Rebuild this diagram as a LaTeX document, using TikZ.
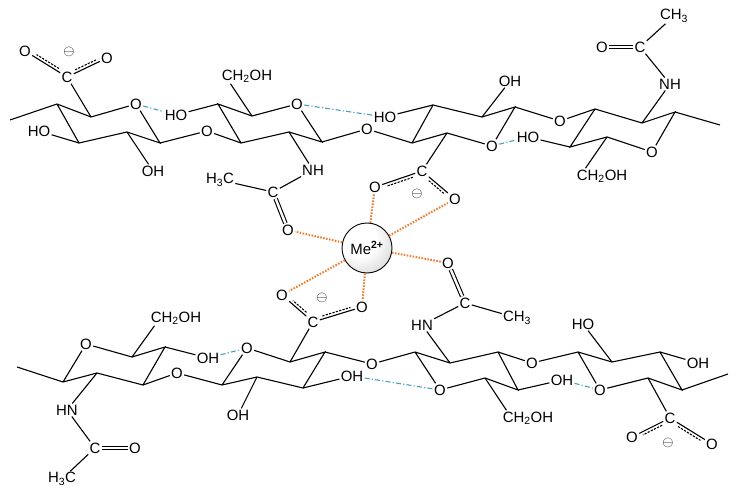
\documentclass[tikz,border=0pt]{standalone}
\usepackage{fontspec}
\setmainfont{Liberation Sans}
\usepackage{xcolor}
\usepackage{tikz}
\usetikzlibrary{calc, positioning}
\definecolor{hcyan}{RGB}{70,160,190}
\definecolor{metorange}{RGB}{240,120,40}
\pgfdeclareradialshading{metalball}{\pgfpoint{-12bp}{12bp}}{color(0bp)=(white); color(18bp)=(white); color(45bp)=(gray!45); color(70bp)=(gray!65)}
\tikzstyle{atom} = [inner sep=1.2pt, font=\fontsize{15}{15}\selectfont]
\tikzstyle{charge} = [inner sep=0pt, font=\fontsize{15}{15}\selectfont]
\tikzstyle{bond} = [line width=1.1bp, black]
\tikzstyle{dbond} = [bond, double, double distance=2.4bp]
\tikzstyle{hbond} = [line width=1.1bp, hcyan, dash pattern=on 5bp off 2.2bp on 1.2bp off 2.2bp]
\tikzstyle{coord} = [line width=2bp, metorange, dash pattern=on 1.5bp off 1.5bp]
\tikzstyle{metal} = [circle, draw=black, line width=0.9bp, minimum size=50bp, inner sep=0pt, shading=metalball, font=\fontsize{15}{15}\selectfont]
\newcommand{\delocbond}[3]{%
	\draw [bond] (#1) -- (#2) coordinate[pos=0.1] (dl_s) coordinate[pos=0.9] (dl_e);
	\coordinate (dl_p) at ($(dl_s)!3bp!#3:(dl_e)$);
	\draw [bond, dash pattern=on 2.2bp off 1.3bp] (dl_p) -- ($(dl_e)+(dl_p)-(dl_s)$);
}

\begin{document}
\begin{tikzpicture}[x=1bp, y=-1bp]
			
			\useasboundingbox (0,0) rectangle (744,499);
			
			\coordinate (end_tl) at (10,120);
			\coordinate (r1_a) at (57,104);
			\coordinate (r1_b) at (91,117);
			\node (r1_o) [atom] at (136,104) {O};
			\coordinate (r1_c) at (160,143);
			\coordinate (r1_d) at (127,132);
			\coordinate (r1_e) at (79,143);
			\node (r1_ho) [atom] at (39,131) {HO};
			\node (r1_oh) [atom] at (153,171) {OH};
			\node (r1_cc) [atom] at (67,77) {C};
			\node (r1_ol) [atom] at (25,51) {O};
			\node (r1_or) [atom] at (107,58) {O};
			\node (r1_neg) [charge] at (69,52) {$\ominus$};
			\node (g1) [atom] at (207,131) {O};
			
			\coordinate (r2_a) at (218,104);
			\coordinate (r2_b) at (252,116);
			\node (r2_o) [atom] at (297,104) {O};
			\coordinate (r2_c) at (322,142);
			\coordinate (r2_d) at (289,132);
			\coordinate (r2_e) at (241,143);
			\node (r2_ho) [atom] at (176,115) {HO};
			\node (r2_ch) [atom] at (247,76) {CH\textsubscript{2}OH};
			\node (r2_nh) [atom] at (313,170) {NH};
			\node (r2_ac) [atom] at (273,192) {C};
			\node (r2_me) [atom] at (220,180) {H\textsubscript{3}C};
			\node (r2_ao) [atom] at (288,230) {O};
			\node (g2) [atom] at (367,129) {O};
			
			\coordinate (r3_e) at (412,143);
			\coordinate (r3_a) at (433,105);
			\coordinate (r3_b) at (482,117);
			\coordinate (r3_c) at (515,107);
			\node (r3_o) [atom] at (492,146) {O};
			\coordinate (r3_d) at (447,133);
			\node (r3_ho) [atom] at (385,117) {HO};
			\node (r3_oh) [atom] at (510,81) {OH};
			\node (r3_cc) [atom] at (422,171) {C};
			\node (r3_ol) [atom] at (375,187) {O};
			\node (r3_or) [atom] at (455,199) {O};
			\node (r3_neg) [charge] at (417,194) {$\ominus$};
			\node (g3) [atom] at (560,121) {O};
			
			\coordinate (r4_a) at (595,109);
			\coordinate (r4_e) at (570,147);
			\coordinate (r4_d) at (607,137);
			\node (r4_o) [atom] at (652,152) {O};
			\coordinate (r4_c) at (675,112);
			\coordinate (r4_b) at (642,123);
			\coordinate (end_tr) at (720,125);
			\node (r4_ho) [atom] at (528,137) {HO};
			\node (r4_ch) [atom] at (602,176) {CH\textsubscript{2}OH};
			\node (r4_nh) [atom] at (670,84) {NH};
			\node (r4_ac) [atom] at (640,47) {C};
			\node (r4_ao) [atom] at (602,47) {O};
			\node (r4_me) [atom] at (674,16) {CH\textsubscript{3}};
			
			\coordinate (end_bl) at (17,367);
			\coordinate (r5_a) at (63,382);
			\node (r5_o) [atom] at (86,344) {O};
			\coordinate (r5_b) at (132,357);
			\coordinate (r5_c) at (165,347);
			\coordinate (r5_d) at (143,385);
			\coordinate (r5_e) at (97,373);
			\node (r5_ch) [atom] at (176,318) {CH\textsubscript{2}OH};
			\node (r5_oh) [atom] at (208,358) {OH};
			\node (r5_nh) [atom] at (67,410) {HN};
			\node (r5_ac) [atom] at (95,448) {C};
			\node (r5_ao) [atom] at (135,448) {O};
			\node (r5_me) [atom] at (62,479) {H\textsubscript{3}C};
			\node (g5) [atom] at (177,373) {O};
			
			\coordinate (r6_a) at (222,385);
			\node (r6_o) [atom] at (247,348) {O};
			\coordinate (r6_b) at (290,362);
			\coordinate (r6_c) at (325,352);
			\coordinate (r6_d) at (303,388);
			\coordinate (r6_e) at (257,377);
			\node (r6_oh) [atom] at (352,376) {OH};
			\node (r6_ohb) [atom] at (238,415) {OH};
			\node (r6_cc) [atom] at (313,322) {C};
			\node (r6_ol) [atom] at (282,295) {O};
			\node (r6_or) [atom] at (362,307) {O};
			\node (r6_neg) [charge] at (322,298) {$\ominus$};
			\node (g6) [atom] at (372,364) {O};
			
			\coordinate (r7_a) at (415,352);
			\coordinate (r7_b) at (450,363);
			\coordinate (r7_c) at (498,352);
			\coordinate (r7_d) at (518,390);
			\coordinate (r7_e) at (485,378);
			\node (r7_o) [atom] at (440,390) {O};
			\node (r7_nh) [atom] at (422,325) {HN};
			\node (r7_oh) [atom] at (562,380) {OH};
			\node (r7_ch) [atom] at (528,418) {CH\textsubscript{2}OH};
			\node (r7_ac) [atom] at (465,303) {C};
			\node (r7_ao) [atom] at (448,263) {O};
			\node (r7_me) [atom] at (517,318) {CH\textsubscript{3}};
			\node (g7) [atom] at (532,363) {O};
			
			\coordinate (r8_a) at (578,352);
			\coordinate (r8_b) at (612,362);
			\coordinate (r8_c) at (660,352);
			\coordinate (r8_d) at (682,390);
			\coordinate (r8_e) at (648,378);
			\coordinate (end_br) at (728,374);
			\node (r8_o) [atom] at (600,390) {O};
			\node (r8_ho) [atom] at (583,324) {HO};
			\node (r8_oh) [atom] at (698,363) {OH};
			\node (r8_cc) [atom] at (670,418) {C};
			\node (r8_ol) [atom] at (632,437) {O};
			\node (r8_or) [atom] at (712,444) {O};
			\node (r8_neg) [charge] at (668,443) {$\ominus$};
			
			\node (metal) [metal] at (367,248) {Me\textsuperscript{\textbf{2+}}};
			
			
			
			
			\draw [bond] (end_tl) -- (r1_a) -- (r1_b) -- (r1_o) -- (r1_c) -- (r1_d) -- (r1_e) -- (r1_a);
			\draw [bond] (r1_e) -- (r1_ho);
			\draw [bond] (r1_d) -- (r1_oh);
			\draw [bond] (r1_b) -- (r1_cc);
			\delocbond{r1_cc}{r1_ol}{-90}
			\delocbond{r1_cc}{r1_or}{90}
			\draw [bond] (r1_c) -- (g1) -- (r2_e);
			
			\draw [bond] (r2_e) -- (r2_a) -- (r2_b) -- (r2_o) -- (r2_c) -- (r2_d) -- (r2_e);
			\draw [bond] (r2_a) -- (r2_ho);
			\draw [bond] (r2_b) -- ([xshift=10bp]r2_ch.south west);
			\draw [bond] (r2_d) -- (r2_nh) -- (r2_ac) -- (r2_me);
			\draw [dbond] (r2_ac) -- (r2_ao);
			\draw [bond] (r2_c) -- (g2) -- (r3_e);
			
			\draw [bond] (r3_e) -- (r3_a) -- (r3_b) -- (r3_c) -- (r3_o) -- (r3_d) -- (r3_e);
			\draw [bond] (r3_a) -- (r3_ho);
			\draw [bond] (r3_b) -- (r3_oh);
			\draw [bond] (r3_d) -- (r3_cc);
			\delocbond{r3_cc}{r3_ol}{90}
			\delocbond{r3_cc}{r3_or}{-90}
			\draw [bond] (r3_c) -- (g3) -- (r4_a);
			
			\draw [bond] (r4_a) -- (r4_e) -- (r4_d) -- (r4_o) -- (r4_c) -- (r4_b) -- (r4_a);
			\draw [bond] (r4_c) -- (end_tr);
			\draw [bond] (r4_e) -- (r4_ho);
			\draw [bond] (r4_d) -- ([xshift=10bp]r4_ch.north west);
			\draw [bond] (r4_b) -- (r4_nh) -- (r4_ac) -- (r4_me);
			\draw [dbond] (r4_ac) -- (r4_ao);
			
			\draw [bond] (end_bl) -- (r5_a) -- (r5_o) -- (r5_b) -- (r5_c) -- (r5_d) -- (r5_e) -- (r5_a);
			\draw [bond] (r5_b) -- ([xshift=5bp]r5_ch.south west);
			\draw [bond] (r5_c) -- (r5_oh);
			\draw [bond] (r5_e) -- (r5_nh) -- (r5_ac) -- (r5_me);
			\draw [dbond] (r5_ac) -- (r5_ao);
			\draw [bond] (r5_d) -- (g5) -- (r6_a);
			
			\draw [bond] (r6_a) -- (r6_o) -- (r6_b) -- (r6_c) -- (r6_d) -- (r6_e) -- (r6_a);
			\draw [bond] (r6_d) -- (r6_oh);
			\draw [bond] (r6_e) -- (r6_ohb);
			\draw [bond] (r6_b) -- (r6_cc);
			\delocbond{r6_cc}{r6_ol}{-90}
			\delocbond{r6_cc}{r6_or}{90}
			\draw [bond] (r6_c) -- (g6) -- (r7_a);
			
			\draw [bond] (r7_a) -- (r7_b) -- (r7_c) -- (r7_d) -- (r7_e) -- (r7_o) -- (r7_a);
			\draw [bond] (r7_b) -- (r7_nh) -- (r7_ac) -- (r7_me);
			\draw [dbond] (r7_ac) -- (r7_ao);
			\draw [bond] (r7_d) -- (r7_oh);
			\draw [bond] (r7_e) -- ([xshift=5bp]r7_ch.north west);
			\draw [bond] (r7_c) -- (g7) -- (r8_a);
			
			\draw [bond] (r8_a) -- (r8_b) -- (r8_c) -- (r8_d) -- (r8_e) -- (r8_o) -- (r8_a);
			\draw [bond] (r8_b) -- (r8_ho);
			\draw [bond] (r8_c) -- (r8_oh);
			\draw [bond] (r8_d) -- (end_br);
			\draw [bond] (r8_e) -- (r8_cc);
			\delocbond{r8_cc}{r8_ol}{90}
			\delocbond{r8_cc}{r8_or}{-90}
			
			\draw [hbond] (r1_o) -- (r2_ho);
			\draw [hbond] (r2_o) -- (r3_ho);
			\draw [hbond] (r3_o) -- (r4_ho);
			\draw [hbond] (r5_oh) -- (r6_o);
			\draw [hbond] (r6_oh) -- (r7_o);
			\draw [hbond] (r7_oh) -- (r8_o);
			
			\draw [coord] (metal) -- (r2_ao);
			\draw [coord] (metal) -- (r3_ol);
			\draw [coord] (metal) -- (r3_or);
			\draw [coord] (metal) -- (r7_ao);
			\draw [coord] (metal) -- (r6_or);
			\draw [coord] (metal) -- (r6_ol);
			
		\end{tikzpicture}
\end{document}
